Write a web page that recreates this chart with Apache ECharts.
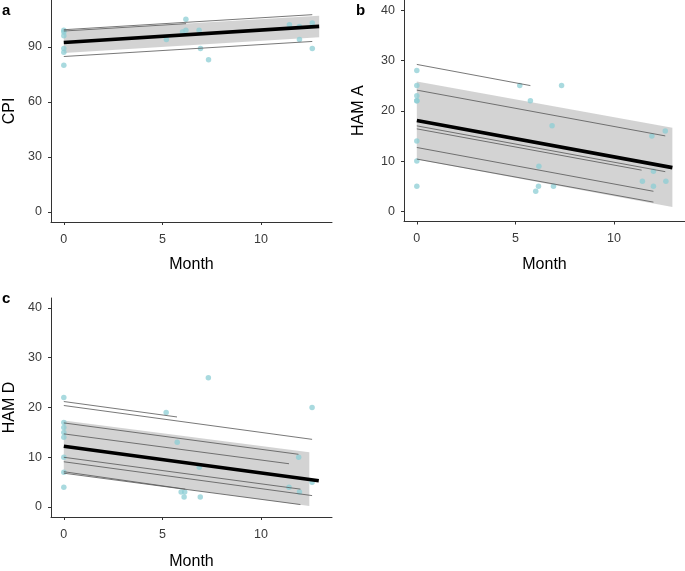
<!DOCTYPE html>
<html>
<head>
<meta charset="utf-8">
<script src="https://cdn.jsdelivr.net/npm/echarts@6/dist/echarts.min.js"></script>
<style>
html,body{margin:0;padding:0;background:#fff;}
#chart{width:685px;height:571px;}
</style>
</head>
<body>
<div id="chart"></div>
<script>
// ---------- Data ----------
const xTicks = [0, 5, 10];
const yTicksCPI = [0, 30, 60, 90];
const yTicksHAM = [0, 10, 20, 30, 40];

// Panel a: CPI
const cpiMonth = [0, 0, 0, 0, 0, 0, 5.2, 6.02, 6.19, 6.19, 6.86, 6.93, 7.34, 11.44, 11.95, 11.95, 12.6, 12.6];
const cpiValue = [99, 98, 96, 89, 87, 80, 94, 98, 99, 105, 99, 89, 83, 102, 101, 94, 103, 89];
const cpiFitX = [0, 12.95];
const cpiFitY = [92.3, 101.1];
const cpiBandX = [0, 12.95];
const cpiBandLo = [86.6, 95.2];
const cpiBandHi = [98.7, 106.9];
const cpiSubjects = [
  [0, 99.3, 12.6, 107.5],
  [0, 98.6, 6.2, 102.6],
  [0, 84.7, 12.6, 92.9]
];

// Panel b: HAM A
const hamaMonth = [0, 0, 0, 0, 0, 0, 0, 0, 5.22, 5.76, 7.34, 6.86, 6.19, 6.17, 6.03, 6.93, 11.92, 12.6, 11.44, 12.0, 12.0, 12.63];
const hamaValue = [28, 25, 23, 22, 22, 14, 10, 5, 25, 22, 25, 17, 9, 5, 4, 5, 15, 16, 6, 8, 5, 6];
const hamaFitX = [0, 12.96];
const hamaFitY = [18.05, 8.7];
const hamaBandX = [0, 12.96];
const hamaBandLo = [10.3, 0.9];
const hamaBandHi = [25.8, 16.6];
const hamaSubjects = [
  [0, 29.2, 5.76, 25.0],
  [0, 24.1, 12.6, 15.0],
  [0, 17.0, 12.6, 7.9],
  [0, 16.4, 11.4, 8.2],
  [0, 12.7, 12.0, 4.0],
  [0, 10.4, 12.0, 1.85]
];

// Panel c: HAM D
const hamdMonth = [0, 0, 0, 0, 0, 0, 0, 0, 5.19, 5.75, 7.33, 6.87, 5.95, 6.13, 6.1, 6.92, 11.91, 12.59, 11.42, 11.95, 12.59];
const hamdValue = [22, 17, 16, 15, 14, 10, 7, 4, 19, 13, 26, 8, 3, 3, 2, 2, 10, 20, 4, 3, 5];
const hamdFitX = [0, 12.93];
const hamdFitY = [12.2, 5.3];
const hamdBandX = [0, 12.45];
const hamdBandLo = [6.9, 0.2];
const hamdBandHi = [17.4, 11.0];
const hamdSubjects = [
  [0, 21.2, 5.74, 18.1],
  [0, 20.4, 12.59, 13.6],
  [0, 16.9, 11.9, 10.6],
  [0, 14.7, 11.42, 8.7],
  [0, 10.0, 12.0, 3.6],
  [0, 9.1, 12.59, 2.3],
  [0, 7.1, 6.16, 3.6],
  [0, 6.8, 12.0, 0.5]
];

// ---------- Chart ----------
const FONT = 'Liberation Sans, Arial, sans-serif';
const chart = echarts.init(document.getElementById('chart'), null, {renderer: 'canvas'});

function xAxisCfg(gridIndex, gap) {
  return {
    type: 'value', gridIndex: gridIndex, min: -0.65, max: 13.6,
    name: 'Month', nameLocation: 'middle', nameGap: gap,
    nameTextStyle: {fontFamily: FONT, fontSize: 16, color: '#000'},
    axisLine: {show: true, onZero: false, lineStyle: {color: '#333', width: 1}},
    axisTick: {show: true, length: 3, lineStyle: {color: '#333'}, customValues: xTicks},
    axisLabel: {fontFamily: FONT, fontSize: 12.5, color: '#3a3a3a', margin: 11, customValues: xTicks},
    splitLine: {show: false}
  };
}
function yAxisCfg(gridIndex, name, min, max, ticks, gap) {
  return {
    type: 'value', gridIndex: gridIndex, min: min, max: max,
    name: name, nameLocation: 'middle', nameRotate: 90, nameGap: gap,
    nameTextStyle: {fontFamily: FONT, fontSize: 16, color: '#000'},
    axisLine: {show: true, onZero: false, lineStyle: {color: '#333', width: 1}},
    axisTick: {show: true, length: 3, lineStyle: {color: '#333'}, customValues: ticks},
    axisLabel: {fontFamily: FONT, fontSize: 12.5, color: '#3a3a3a', margin: 9, customValues: ticks},
    splitLine: {show: false}
  };
}

function panelSeries(idx, months, values, bandX, lo, hi, fitX, fitY, subjects) {
  const s = [];
  s.push({
    type: 'scatter', xAxisIndex: idx, yAxisIndex: idx,
    data: months.map((m, i) => [m, values[i]]),
    symbolSize: 5.5, silent: true,
    itemStyle: {color: 'rgb(140,205,212)', opacity: 0.75}
  });
  s.push({
    type: 'custom', xAxisIndex: idx, yAxisIndex: idx, silent: true,
    data: bandX.map((x, i) => [x, lo[i], hi[i]]),
    encode: {x: 0, y: [1, 2]},
    renderItem: function (params, api) {
      if (params.dataIndex !== 0) return null;
      const pts = [];
      for (let i = 0; i < bandX.length; i++) pts.push(api.coord([bandX[i], hi[i]]));
      for (let i = bandX.length - 1; i >= 0; i--) pts.push(api.coord([bandX[i], lo[i]]));
      return {type: 'polygon', shape: {points: pts}, style: {fill: 'rgba(150,150,150,0.42)', stroke: null}};
    }
  });
  subjects.forEach(function (l) {
    s.push({
      type: 'line', xAxisIndex: idx, yAxisIndex: idx, silent: true,
      data: [[l[0], l[1]], [l[2], l[3]]],
      showSymbol: false, symbol: 'none',
      lineStyle: {color: '#555', width: 0.8}
    });
  });
  s.push({
    type: 'line', xAxisIndex: idx, yAxisIndex: idx, silent: true,
    data: fitX.map((x, i) => [x, fitY[i]]),
    showSymbol: false, symbol: 'none',
    lineStyle: {color: '#000', width: 3.6}
  });
  return s;
}

const series = [].concat(
  panelSeries(0, cpiMonth, cpiValue, cpiBandX, cpiBandLo, cpiBandHi, cpiFitX, cpiFitY, cpiSubjects),
  panelSeries(1, hamaMonth, hamaValue, hamaBandX, hamaBandLo, hamaBandHi, hamaFitX, hamaFitY, hamaSubjects),
  panelSeries(2, hamdMonth, hamdValue, hamdBandX, hamdBandLo, hamdBandHi, hamdFitX, hamdFitY, hamdSubjects)
);

chart.setOption({
  animation: false,
  backgroundColor: '#fff',
  grid: [
    {left: 51, top: 0, width: 281, height: 222},
    {left: 404, top: 0, width: 281, height: 221.5},
    {left: 51, top: 298, width: 281, height: 222}
  ],
  xAxis: [xAxisCfg(0, 35), xAxisCfg(1, 35), xAxisCfg(2, 37)],
  yAxis: [
    yAxisCfg(0, 'CPI', -5.5, 115.5, yTicksCPI, 33),
    yAxisCfg(1, 'HAM A', -2, 42, yTicksHAM, 37),
    yAxisCfg(2, 'HAM D', -2, 42, yTicksHAM, 33)
  ],
  graphic: [
    {type: 'text', left: 2, top: 3, style: {text: 'a', font: 'bold 15px ' + FONT, fill: '#000'}},
    {type: 'text', left: 356, top: 3, style: {text: 'b', font: 'bold 15px ' + FONT, fill: '#000'}},
    {type: 'text', left: 2, top: 291, style: {text: 'c', font: 'bold 15px ' + FONT, fill: '#000'}}
  ],
  series: series
});
</script>
</body>
</html>
